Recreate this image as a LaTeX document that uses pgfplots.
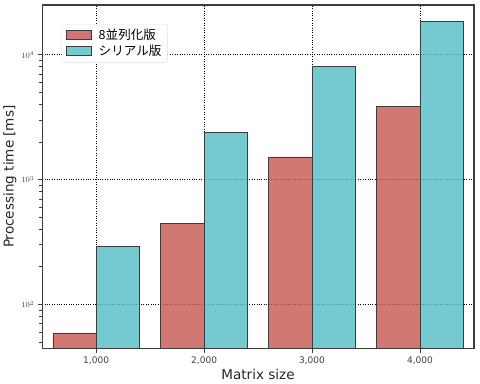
\documentclass[border=0pt]{standalone}
\usepackage{fontspec}
\setmainfont{DejaVu Sans}
\newfontfamily\cjk{Noto Sans CJK JP}
\usepackage{pgfplots}
\pgfplotsset{compat=1.18}
\definecolor{barred}{RGB}{197,86,80}
\definecolor{barcyan}{RGB}{82,189,197}
\definecolor{framegray}{RGB}{60,60,60}
\definecolor{ticktxt}{RGB}{64,64,64}
\begin{document}
\begin{tikzpicture}
\begin{axis}[
  scale only axis,
  width=430pt, height=342pt,
  ymode=log,
  ymin=44.5, ymax=25000,
  xmin=500, xmax=4500,
  log origin=infty,
  xtick={1000,2000,3000,4000},
  xticklabels={{1,000},{2,000},{3,000},{4,000}},
  xtick pos=bottom, ytick pos=left,
  tick align=outside,
  tickwidth=4.5pt, subtickwidth=3pt,
  tick style={color=framegray, line width=0.9pt},
  axis line style={framegray, line width=1.2pt},
  ymajorgrids, xmajorgrids,
  major grid style={black, dotted, line width=0.9pt},
  tick label style={color=ticktxt},
  xticklabel style={font=\fontsize{9}{10}\selectfont},
  yticklabel style={font=\fontsize{8}{9}\selectfont},
  xlabel={Matrix size},
  ylabel={Processing time [ms]},
  label style={font=\fontsize{13.5}{15}\selectfont, color=black!85},
  xlabel style={yshift=2pt},
  ylabel style={yshift=-2pt},
  legend style={at={(rel axis cs:0.045,0.945)}, anchor=north west,
    draw=black!12, rounded corners=2pt, fill=white,
    font=\cjk\fontsize{12.5}{14}\selectfont,
    inner xsep=4pt, inner ysep=3pt},
  legend cell align=left,
  legend image code/.code={\draw[#1, sharp corners] (0pt,-4.5pt) rectangle (25pt,4.5pt);},
]
\addplot[ybar, bar width=400, bar shift=-200, fill=barred, fill opacity=0.8, draw=framegray, line width=0.8pt]
  coordinates {(1000,58.5) (2000,445) (3000,1520) (4000,3830)};
\addlegendentry{\hspace{5pt}8並列化版}
\addplot[ybar, bar width=400, bar shift=200, fill=barcyan, fill opacity=0.8, draw=framegray, line width=0.8pt]
  coordinates {(1000,292) (2000,2400) (3000,8000) (4000,18600)};
\addlegendentry{\hspace{5pt}シリアル版}
\end{axis}
\path (current axis.north east) ++(6pt,5pt) coordinate (ne);
\path (ne);
\end{tikzpicture}
\end{document}
